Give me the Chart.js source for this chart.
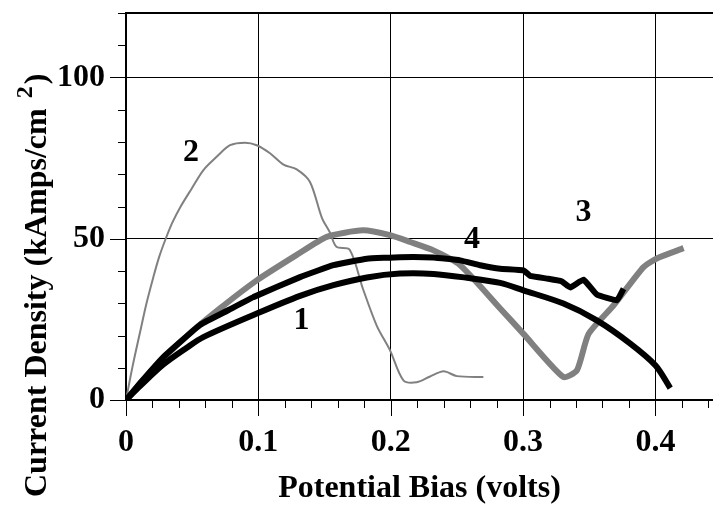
<!DOCTYPE html>
<html>
<head>
<meta charset="utf-8">
<script src="https://cdn.jsdelivr.net/npm/chart.js@4.4.1/dist/chart.umd.min.js"></script>
<style>
  html, body { margin: 0; padding: 0; background: #fff; }
  canvas { display: block; }
</style>
</head>
<body>
<canvas id="iv" width="713" height="508"></canvas>
<script>
// Device 1
const bias1    = [0, 0.0106, 0.0282, 0.0459, 0.0584, 0.0988, 0.1315, 0.1567, 0.182, 0.207, 0.2323, 0.2575, 0.2827, 0.3003, 0.3305, 0.3557, 0.381, 0.4001, 0.4112];
const density1 = [0, 4.3, 11.0, 16.2, 19.5, 26.8, 32.3, 35.6, 38.0, 39.2, 39.1, 37.9, 36.3, 34.0, 29.9, 24.7, 17.5, 10.7, 3.7];

// Device 2
const bias2    = [0, 0.005, 0.0106, 0.0155, 0.0206, 0.025, 0.030, 0.035, 0.041, 0.0497, 0.0585, 0.0685, 0.0786, 0.090, 0.0988, 0.1088, 0.119, 0.129, 0.139, 0.148, 0.154, 0.159, 0.169, 0.179, 0.1895, 0.1995, 0.2096, 0.2197, 0.2298, 0.240, 0.250, 0.270];
const density2 = [0, 10.5, 21.0, 30.0, 38.0, 44.3, 50.0, 55.0, 59.8, 65.6, 71.3, 75.4, 79.0, 79.8, 79.0, 76.5, 73.0, 71.5, 67.6, 56.5, 52.0, 47.5, 46.6, 34.5, 23.0, 15.4, 6.1, 5.5, 7.3, 8.9, 7.4, 7.1];

// Device 3
const bias3    = [0, 0.0200, 0.0459, 0.0710, 0.0988, 0.1290, 0.1517, 0.1790, 0.1995, 0.2147, 0.2323, 0.2525, 0.2827, 0.3003, 0.3305, 0.3407, 0.3495, 0.3683, 0.3910, 0.4010, 0.4213];
const density3 = [0, 9.5, 19.8, 28.4, 37.1, 45.0, 50.6, 52.6, 51.1, 49.0, 46.4, 41.8, 28.4, 20.5, 7.1, 9.2, 20.5, 29.3, 41.2, 43.9, 47.1];

// Device 4
const bias4    = [0, 0.0106, 0.0282, 0.0560, 0.0775, 0.0962, 0.1315, 0.1567, 0.1820, 0.2070, 0.2323, 0.2525, 0.2676, 0.2827, 0.3003, 0.3054, 0.3190, 0.3290, 0.3356, 0.3457, 0.3557, 0.3709, 0.3759];
const density4 = [0, 5.2, 13.3, 23.3, 27.9, 31.9, 38.1, 41.8, 43.8, 44.3, 44.2, 43.3, 41.8, 40.7, 40.2, 38.5, 37.6, 36.8, 34.9, 37.3, 32.7, 30.9, 34.5];

// Axis ticks and curve tags
const xTickValues = [0, 0.1, 0.2, 0.3, 0.4];
const yTickValues = [0, 50, 100];
const xMinorValues = [0.02, 0.04, 0.06, 0.08, 0.12, 0.14, 0.16, 0.18, 0.22, 0.24, 0.26, 0.28, 0.32, 0.34, 0.36, 0.38, 0.42, 0.44];
const yMinorValues = [10, 20, 30, 40, 60, 70, 80, 90, 110, 120];
const curveTags = ['1', '2', '3', '4'];
const tagBias = [0.1326, 0.0491, 0.3457, 0.2614];
const tagDensity = [24.5, 76.7, 58.1, 49.6];

const serif = "'Liberation Serif', 'Times New Roman', serif";
const toPoints = (xs, ys) => xs.map((v, i) => ({ x: v, y: ys[i] }));

// Tick marks, top frame line, y title with superscript, curve numbers
const decorations = {
  id: 'decorations',
  afterDatasetsDraw(chart) {
    const { ctx, scales: { x, y } } = chart;
    ctx.save();
    ctx.fillStyle = '#000';
    ctx.font = 'bold 32px ' + serif;
    ctx.textAlign = 'center';
    ctx.textBaseline = 'middle';
    curveTags.forEach((t, i) => {
      ctx.fillText(t, x.getPixelForValue(tagBias[i]), y.getPixelForValue(tagDensity[i]));
    });
    ctx.restore();
  },
  afterDraw(chart) {
    const { ctx, chartArea: a, scales: { x, y } } = chart;
    ctx.save();
    ctx.strokeStyle = '#000';

    ctx.lineWidth = 2;
    ctx.beginPath();
    ctx.moveTo(a.left, a.top);
    ctx.lineTo(a.right, a.top);
    ctx.stroke();

    ctx.lineWidth = 1;
    ctx.beginPath();
    yMinorValues.forEach(v => {
      const py = Math.round(y.getPixelForValue(v)) + 0.5;
      ctx.moveTo(a.left - 8, py); ctx.lineTo(a.left, py);
    });
    yTickValues.forEach(v => {
      const py = Math.round(y.getPixelForValue(v)) + 0.5;
      ctx.moveTo(a.left - 16, py); ctx.lineTo(a.left, py);
    });
    xMinorValues.forEach(v => {
      const px = Math.round(x.getPixelForValue(v)) + 0.5;
      ctx.moveTo(px, a.bottom); ctx.lineTo(px, a.bottom + 8);
    });
    xTickValues.forEach(v => {
      const px = Math.round(x.getPixelForValue(v)) + 0.5;
      ctx.moveTo(px, a.bottom); ctx.lineTo(px, a.bottom + 16);
    });
    ctx.stroke();

    // Vertical axis title: "Current Density (kAmps/cm²)"
    ctx.translate(46, 497);
    ctx.rotate(-Math.PI / 2);
    ctx.fillStyle = '#000';
    ctx.textAlign = 'left';
    ctx.textBaseline = 'alphabetic';
    ctx.font = 'bold 32px ' + serif;
    const main = 'Current Density (kAmps/cm';
    ctx.fillText(main, 0, 0);
    let pos = ctx.measureText(main).width + 10;
    ctx.font = 'bold 24px ' + serif;
    ctx.fillText('2', pos, -14);
    pos += ctx.measureText('2').width + 2;
    ctx.font = 'bold 32px ' + serif;
    ctx.fillText(')', pos, 0);
    ctx.restore();
  }
};

new Chart(document.getElementById('iv'), {
  type: 'line',
  data: {
    datasets: [
      { label: '1', data: toPoints(bias1, density1), borderColor: '#000', borderWidth: 6, order: 0, tension: 0.3 },
      { label: '4', data: toPoints(bias4, density4), borderColor: '#000', borderWidth: 6, order: 0, tension: 0.1 },
      { label: '3', data: toPoints(bias3, density3), borderColor: '#808080', borderWidth: 6, order: 1, tension: 0.2 },
      { label: '2', data: toPoints(bias2, density2), borderColor: '#808080', borderWidth: 2, order: 2, tension: 0.3 }
    ]
  },
  options: {
    responsive: false,
    animation: false,
    events: [],
    layout: { padding: { top: 13, left: 0, right: 0, bottom: 0 } },
    elements: {
      point: { radius: 0 },
      line: { fill: false, borderJoinStyle: 'round', borderCapStyle: 'butt' }
    },
    plugins: { legend: { display: false }, tooltip: { enabled: false } },
    scales: {
      x: {
        type: 'linear',
        min: 0,
        max: 0.4435,
        afterBuildTicks: s => { s.ticks = xTickValues.map(v => ({ value: v })); },
        afterFit: s => { s.height = 108; s.paddingLeft = 0; s.paddingRight = 0; },
        grid: { color: '#000', lineWidth: 1, drawTicks: false },
        border: { display: true, color: '#000', width: 2 },
        ticks: {
          color: '#000',
          font: { family: serif, weight: 'bold', size: 32 },
          padding: 24,
          maxRotation: 0,
          autoSkip: false,
          callback: v => String(+Number(v).toFixed(1))
        },
        title: {
          display: true,
          text: 'Potential Bias (volts)',
          color: '#000',
          font: { family: serif, weight: 'bold', size: 32 },
          padding: { top: 0, bottom: 0 }
        }
      },
      y: {
        type: 'linear',
        min: 0,
        max: 120,
        afterBuildTicks: s => { s.ticks = yTickValues.map(v => ({ value: v })); },
        afterFit: s => { s.width = 126; s.paddingTop = 0; s.paddingBottom = 0; },
        grid: { color: '#000', lineWidth: 1, drawTicks: false },
        border: { display: true, color: '#000', width: 2 },
        ticks: {
          color: '#000',
          font: { family: serif, weight: 'bold', size: 32 },
          padding: 21,
          autoSkip: false,
          callback: v => String(v)
        }
      }
    }
  },
  plugins: [decorations]
});
</script>
</body>
</html>
